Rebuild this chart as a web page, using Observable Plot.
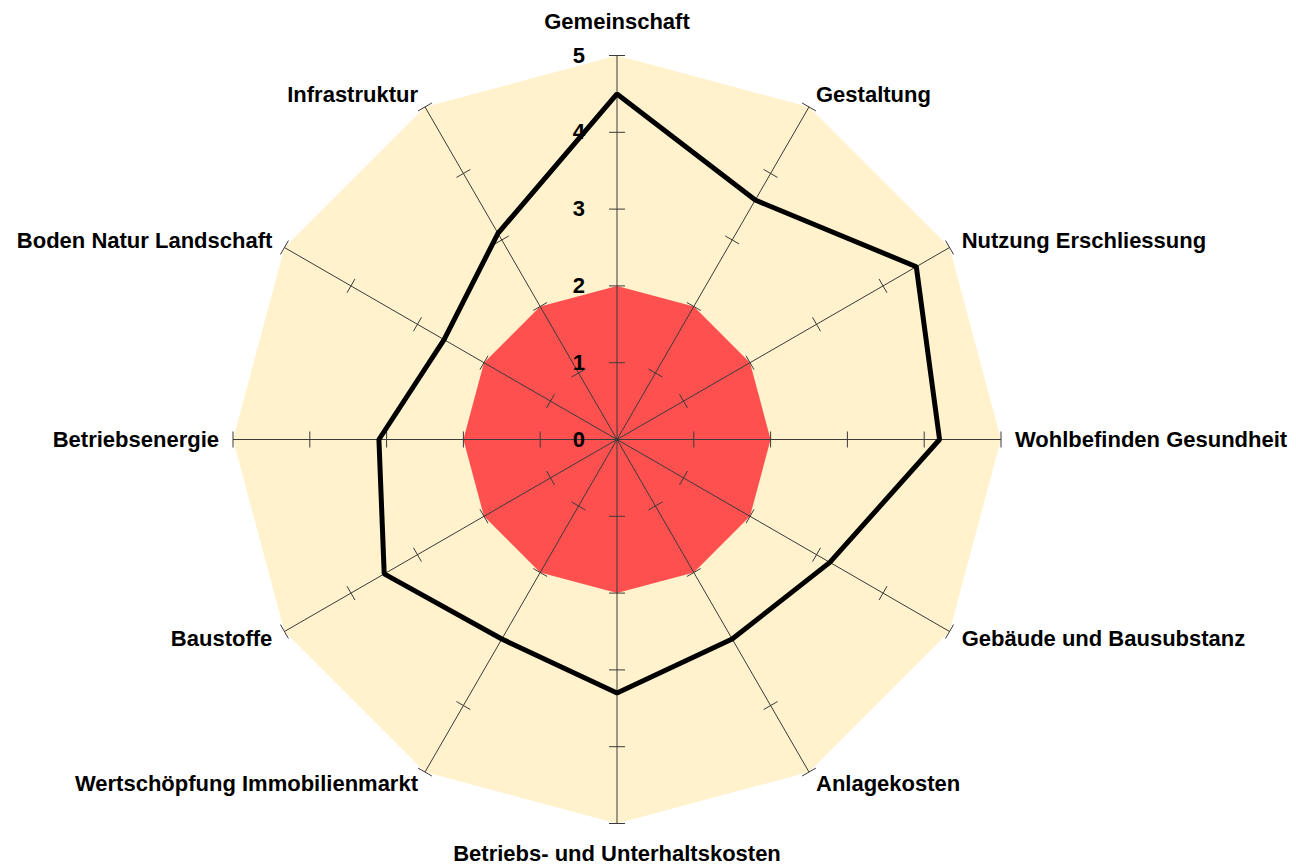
<!DOCTYPE html>
<html>
<head>
<meta charset="utf-8">
<script src="https://cdn.jsdelivr.net/npm/d3@7"></script>
<script src="https://cdn.jsdelivr.net/npm/@observablehq/plot@0.6"></script>
<style>
  html, body { margin: 0; padding: 0; background: #ffffff; }
  #chart svg { display: block; }
</style>
</head>
<body>
<div id="chart"></div>
<script>
// ---- data ----
const categories = [
  "Gemeinschaft",
  "Gestaltung",
  "Nutzung Erschliessung",
  "Wohlbefinden Gesundheit",
  "Gebäude und Bausubstanz",
  "Anlagekosten",
  "Betriebs- und Unterhaltskosten",
  "Wertschöpfung Immobilienmarkt",
  "Baustoffe",
  "Betriebsenergie",
  "Boden Natur Landschaft",
  "Infrastruktur"
];
const values = [4.5, 3.6, 4.5, 4.2, 3.2, 3.0, 3.3, 3.0, 3.5, 3.1, 2.6, 3.1];
const tickValues = [0, 1, 2, 3, 4, 5];
const maxValue = 5;
const redZone = 2;

// ---- geometry helpers ----
const W = 1296, H = 867;
const unit = 76.8;          // pixels per score unit
const cx = 616.5, cy = 439; // centre of the radar in pixels
const n = categories.length;
const ang = i => (i * 2 * Math.PI) / n; // clockwise from top
const pt = (i, r) => ({x: r * Math.sin(ang(i)), y: r * Math.cos(ang(i))});

const ring = r => categories.map((c, i) => pt(i, r));
const spokes = categories.map((c, i) => {
  const p = pt(i, maxValue);
  return {x1: 0, y1: 0, x2: p.x, y2: p.y};
});
const half = 8 / unit;
const ticks = [];
categories.forEach((c, i) => {
  const a = ang(i);
  for (const v of tickValues.filter(t => t > 0)) {
    const p = pt(i, v);
    ticks.push({
      x1: p.x + half * Math.cos(a), y1: p.y - half * Math.sin(a),
      x2: p.x - half * Math.cos(a), y2: p.y + half * Math.sin(a)
    });
  }
});
const series = categories.map((c, i) => ({cat: c, ...pt(i, values[i])}));

const labels = categories.map((c, i) => {
  const s = Math.sin(ang(i)), co = Math.cos(ang(i));
  const off = co > 0.99 ? 34 : (co < -0.99 ? 30 : 14);
  const p = pt(i, maxValue + off / unit);
  const anchor = Math.abs(s) < 0.01 ? "middle" : (s > 0 ? "start" : "end");
  return {text: c, x: p.x, y: p.y, anchor};
});

const font = "'Liberation Sans', Arial, sans-serif";

const chart = Plot.plot({
  width: W,
  height: H,
  margin: 0,
  style: {fontFamily: font, background: "#ffffff"},
  x: {domain: [-cx / unit, (W - cx) / unit], range: [0, W]},
  y: {domain: [-(H - cy) / unit, cy / unit], range: [H, 0]},
  axis: null,
  marks: [
    Plot.line(ring(maxValue), {x: "x", y: "y", fill: "#FFF2CC", stroke: "none", curve: "linear-closed"}),
    Plot.line(ring(redZone), {x: "x", y: "y", fill: "#FF5050", stroke: "none", curve: "linear-closed"}),
    Plot.link(spokes, {x1: "x1", y1: "y1", x2: "x2", y2: "y2", stroke: "#3a3a3a", strokeWidth: 1}),
    Plot.link(ticks, {x1: "x1", y1: "y1", x2: "x2", y2: "y2", stroke: "#3a3a3a", strokeWidth: 1}),
    Plot.text(tickValues, {x: () => 0, y: d => d, text: d => String(d), textAnchor: "end", dx: -32,
      fontSize: 22, fontWeight: "bold", fill: "#000"}),
    Plot.line(series, {x: "x", y: "y", stroke: "#000", strokeWidth: 5, curve: "linear-closed",
      strokeLinejoin: "miter"}),
    ...["start", "middle", "end"].map(a =>
      Plot.text(labels.filter(d => d.anchor === a), {x: "x", y: "y", text: "text", textAnchor: a,
        fontSize: 22, fontWeight: "bold", fill: "#000"}))
  ]
});
document.getElementById("chart").appendChild(chart);
</script>
</body>
</html>
